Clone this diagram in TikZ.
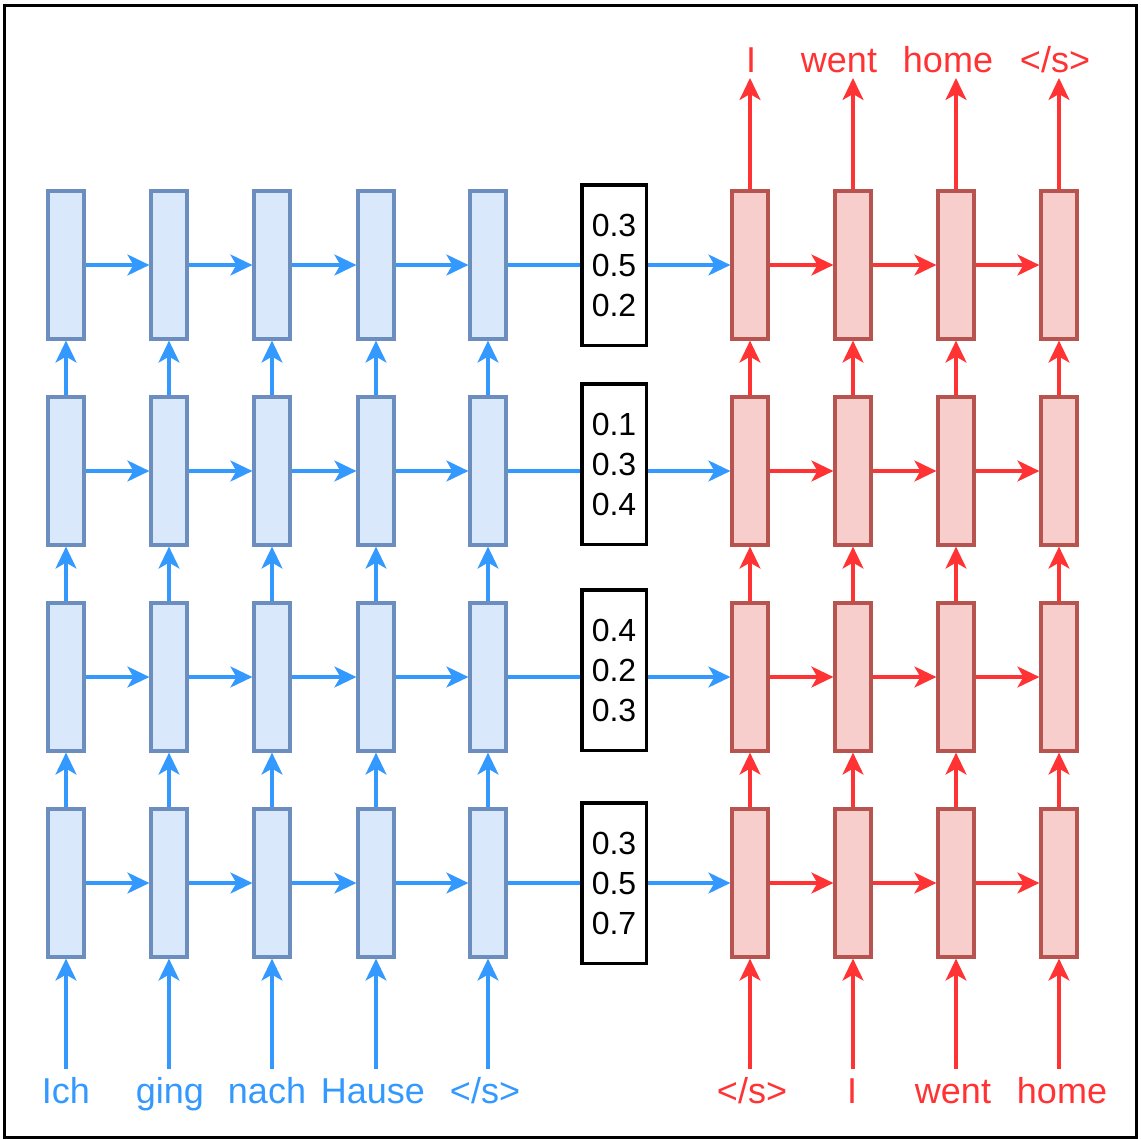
\documentclass[tikz,border=0pt]{standalone}
\usepackage{fontspec}
\setmainfont{Liberation Sans}
\usetikzlibrary{arrows.meta}
\definecolor{encfill}{HTML}{DAE8FC}
\definecolor{encdraw}{HTML}{6C8EBF}
\definecolor{decfill}{HTML}{F8CECC}
\definecolor{decdraw}{HTML}{B85450}
\definecolor{bluearr}{HTML}{3399FF}
\definecolor{redarr}{HTML}{FF3333}
\tikzset{
  encbox/.style={draw=encdraw, fill=encfill, line width=3.2pt, minimum width=36pt, minimum height=148pt, inner sep=0pt},
  decbox/.style={draw=decdraw, fill=decfill, line width=3.2pt, minimum width=36pt, minimum height=148pt, inner sep=0pt},
  attbox/.style={draw=black, fill=white, line width=3.5pt, minimum width=64.5pt, minimum height=160.5pt, inner sep=0pt, align=center, font=\fontsize{32}{40}\selectfont},
  tip/.style={-{Stealth[length=22pt,width=21pt,inset=6pt]}},
  barrow/.style={tip, draw=bluearr, fill=bluearr, line width=3.2pt},
  rarrow/.style={tip, draw=redarr, fill=redarr, line width=3.2pt},
  bline/.style={draw=bluearr, line width=3.2pt},
  btext/.style={text=bluearr, font=\fontsize{36}{40}\selectfont, inner sep=0pt, anchor=base},
  rtext/.style={text=redarr, font=\fontsize{36}{40}\selectfont, inner sep=0pt, anchor=base},
}
\begin{document}
\begin{tikzpicture}[x=1pt,y=-1pt]
\useasboundingbox (0,0) rectangle (1141,1140);
\draw[line width=3pt, black] (4.5,5.5) rectangle (1136.5,1137.5);

% encoder boxes
\foreach \x [count=\i] in {66,169,272,376,488}
  \foreach \y [count=\j] in {265,471,677,883}
    \node[encbox] (e\i-\j) at (\x,\y) {};
% decoder boxes
\foreach \x [count=\i] in {750,853,956,1059}
  \foreach \y [count=\j] in {265,471,677,883}
    \node[decbox] (d\i-\j) at (\x,\y) {};

% attention boxes
\node[attbox] (m1) at (614,265) {0.3\\0.5\\0.2};
\node[attbox] (m2) at (614,464) {0.1\\0.3\\0.4};
\node[attbox] (m3) at (614,670) {0.4\\0.2\\0.3};
\node[attbox] (m4) at (614,883) {0.3\\0.5\\0.7};

% encoder horizontal arrows
\foreach \j in {1,2,3,4}
  \foreach \i/\k in {1/2,2/3,3/4,4/5}
    \draw[barrow] (e\i-\j.east) -- (e\k-\j.west);
% encoder vertical arrows
\foreach \i in {1,2,3,4,5}
  \foreach \j/\k in {4/3,3/2,2/1}
    \draw[barrow] (e\i-\j.north) -- (e\i-\k.south);
% decoder horizontal arrows
\foreach \j in {1,2,3,4}
  \foreach \i/\k in {1/2,2/3,3/4}
    \draw[rarrow] (d\i-\j.east) -- (d\k-\j.west);
% decoder vertical arrows
\foreach \i in {1,2,3,4}
  \foreach \j/\k in {4/3,3/2,2/1}
    \draw[rarrow] (d\i-\j.north) -- (d\i-\k.south);

% encoder to attention to decoder
\foreach \j in {1,2,3,4} {
  \draw[bline] (e5-\j.east) -- (m\j.west |- e5-\j.east);
  \draw[barrow] (m\j.east |- d1-\j.west) -- (d1-\j.west);
}

% input words (encoder)
\node[btext] (w1) at (66,1103) {Ich};
\node[btext] (w2) at (170,1103) {ging};
\node[btext] (w3) at (267,1103) {nach};
\node[btext] (w4) at (373,1103) {Hause};
\node[btext] (w5) at (485,1103) {</s>};
\foreach \x [count=\i] in {66,169,272,376,488} {
  \coordinate (ein\i) at (\x,1069);
  \draw[barrow] (ein\i) -- (e\i-4.south);
}

% input words (decoder)
\node[rtext] (v1) at (752,1103) {</s>};
\node[rtext] (v2) at (852,1103) {I};
\node[rtext] (v3) at (953,1103) {went};
\node[rtext] (v4) at (1062,1103) {home};
\foreach \x [count=\i] in {750,853,956,1059} {
  \coordinate (din\i) at (\x,1069);
  \draw[rarrow] (din\i) -- (d\i-4.south);
}

% output words
\node[rtext] (o1) at (751,73) {I};
\node[rtext] (o2) at (839,73) {went};
\node[rtext] (o3) at (948,73) {home};
\node[rtext] (o4) at (1055,73) {</s>};
\foreach \x [count=\i] in {750,853,956,1059} {
  \coordinate (dout\i) at (\x,78);
  \draw[rarrow] (d\i-1.north) -- (dout\i);
}
\end{tikzpicture}
\end{document}
